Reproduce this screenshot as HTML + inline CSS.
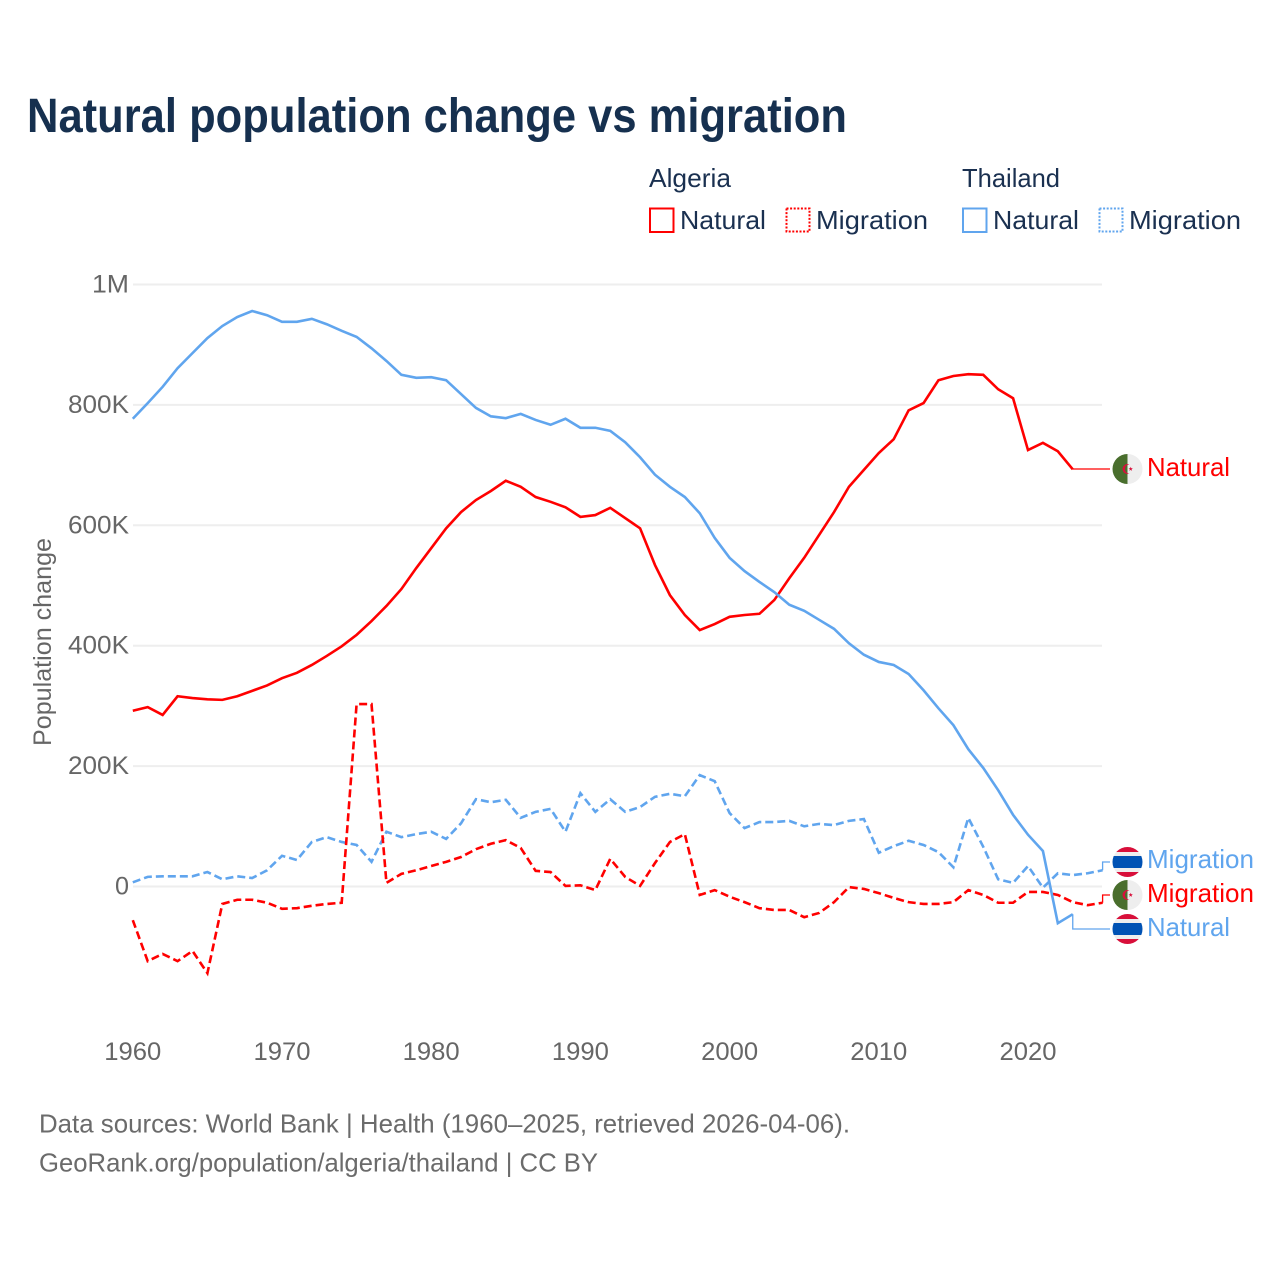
<!DOCTYPE html>
<html lang="en">
<head>
<meta charset="utf-8">
<title>Natural population change vs migration</title>
<style>
html,body{margin:0;padding:0;background:#fff;}
svg{display:block;}
text{font-family:"Liberation Sans",sans-serif;}
</style>
</head>
<body>
<svg id="chart" xmlns="http://www.w3.org/2000/svg" width="1280" height="1280" viewBox="0 0 1280 1280">
  <defs>
    <clipPath id="flag-clip"><circle cx="0" cy="0" r="15"/></clipPath>
    <g id="flag-thailand" clip-path="url(#flag-clip)">
      <rect x="-15" y="-15" width="30" height="30" fill="#eeeeee"/>
      <rect x="-15" y="-15" width="30" height="5" fill="#d80f3a"/>
      <rect x="-15" y="10" width="30" height="5" fill="#d80f3a"/>
      <rect x="-15" y="-6" width="30" height="12" fill="#0052b4"/>
    </g>
    <g id="flag-algeria" clip-path="url(#flag-clip)">
      <rect x="-15" y="-15" width="15" height="30" fill="#496e2d"/>
      <rect x="0" y="-15" width="15" height="30" fill="#eeeeee"/>
      <path d="M2 -4.6A5 5 0 1 0 2 4.6A4 4 0 1 1 2 -4.6Z" fill="#d80f3a"/>
      <polygon points="3.2,-2.2 3.8,-0.7 5.4,-0.7 4.1,0.3 4.6,1.9 3.2,0.9 1.8,1.9 2.3,0.3 1,-0.7 2.6,-0.7" fill="#d80f3a"/>
    </g>
  </defs>

  <rect x="0" y="0" width="1280" height="1280" fill="#ffffff"/>

  <text x="27" y="132" font-size="48" font-weight="700" fill="#16304f" textLength="820" lengthAdjust="spacingAndGlyphs">Natural population change vs migration</text>

  <g font-size="26" fill="#1a3050">
    <text x="649" y="187" textLength="82" lengthAdjust="spacingAndGlyphs">Algeria</text>
    <text x="962" y="187" textLength="98" lengthAdjust="spacingAndGlyphs">Thailand</text>

    <g>
      <rect x="650" y="208.5" width="23.5" height="23.5" fill="none" stroke="#ff0000" stroke-width="2"/>
      <text x="680" y="229" textLength="86" lengthAdjust="spacingAndGlyphs">Natural</text>
    </g>
    <g>
      <rect x="786.5" y="208.5" width="23" height="23" fill="none" stroke="#ff0000" stroke-width="2" stroke-dasharray="2 1.6"/>
      <text x="816" y="229" textLength="112" lengthAdjust="spacingAndGlyphs">Migration</text>
    </g>
    <g>
      <rect x="963" y="208.5" width="23.5" height="23.5" fill="none" stroke="#60a5ee" stroke-width="2"/>
      <text x="993" y="229" textLength="86" lengthAdjust="spacingAndGlyphs">Natural</text>
    </g>
    <g>
      <rect x="1099.5" y="208.5" width="23" height="23" fill="none" stroke="#60a5ee" stroke-width="2" stroke-dasharray="2 1.6"/>
      <text x="1129" y="229" textLength="112" lengthAdjust="spacingAndGlyphs">Migration</text>
    </g>
  </g>

  <g id="grid"></g>
  <g id="y-ticks" font-size="25" fill="#666666" text-anchor="end"></g>
  <g id="x-ticks" font-size="25" fill="#666666" text-anchor="middle"></g>
  <text transform="translate(51,642) rotate(-90)" font-size="25" fill="#666666" text-anchor="middle" textLength="208" lengthAdjust="spacingAndGlyphs">Population change</text>

  <g id="series"></g>

  <g font-size="26">
    <use href="#flag-algeria" x="1127.5" y="469"/>
    <text x="1147" y="476" fill="#ff0000" textLength="83" lengthAdjust="spacingAndGlyphs">Natural</text>
    <use href="#flag-thailand" x="1127.5" y="862"/>
    <text x="1147" y="868" fill="#60a5ee" textLength="107" lengthAdjust="spacingAndGlyphs">Migration</text>
    <use href="#flag-algeria" x="1127.5" y="895"/>
    <text x="1147" y="902" fill="#ff0000" textLength="107" lengthAdjust="spacingAndGlyphs">Migration</text>
    <use href="#flag-thailand" x="1127.5" y="929"/>
    <text x="1147" y="936" fill="#60a5ee" textLength="83" lengthAdjust="spacingAndGlyphs">Natural</text>
  </g>

  <g font-size="26" fill="#6b6b6b">
    <text x="39" y="1132.5" textLength="811" lengthAdjust="spacingAndGlyphs">Data sources: World Bank | Health (1960–2025, retrieved 2026-04-06).</text>
    <text x="39" y="1171.5" textLength="559" lengthAdjust="spacingAndGlyphs">GeoRank.org/population/algeria/thailand | CC BY</text>
  </g>
</svg>
<script>
const startYear = 1960;
const xTickYears = [1960, 1970, 1980, 1990, 2000, 2010, 2020];
const yTickValues = [0, 200, 400, 600, 800, 1000];
const yTickLabels = ['0', '200K', '400K', '600K', '800K', '1M'];

const algeriaNatural = [292,298,285,316,313,311,310,316,325,334,346,355,368,383,399,418,441,466,494,529,562,595,622,642,657,674,664,647,639,630,614,617,629,612,595,534,484,451,426,436,448,451,453,476,512,546,584,622,664,692,720,743,791,803,841,848,851,850,826,811,725,737,723,693];
const thailandNatural = [777,803,830,861,886,911,931,946,956,949,938,938,943,934,923,913,894,873,850,845,846,841,818,795,781,778,785,775,767,777,762,762,757,738,713,684,664,647,620,579,546,524,506,489,468,458,443,428,404,385,373,368,353,326,296,268,228,197,160,119,86,59,-61,-46];
const algeriaMigration = [-56,-124,-112,-124,-107,-144,-29,-22,-22,-27,-37,-36,-32,-29,-27,303,303,6,21,27,34,41,49,62,71,77,64,26,24,1,2,-6,46,16,1,39,74,87,-14,-6,-17,-26,-36,-39,-39,-51,-44,-26,-1,-4,-11,-19,-26,-29,-29,-26,-6,-14,-27,-27,-9,-9,-14,-26,-31,-27];
const thailandMigration = [7,16,17,17,17,24,12,17,14,27,51,44,74,82,74,69,41,91,82,87,91,79,105,145,140,144,114,124,129,91,155,124,145,124,132,149,154,150,185,175,122,97,107,107,109,100,104,102,109,112,56,67,76,69,57,32,114,66,12,6,34,-2,22,19,22,27];

const NS = 'http://www.w3.org/2000/svg';
function xScale(year) { return 132.8 + (year - 1960) * 14.92; }
function yScale(v) { return 886.5 - v * 0.602; }

const grid = document.getElementById('grid');
const yTicks = document.getElementById('y-ticks');
const xTicks = document.getElementById('x-ticks');
const seriesGroup = document.getElementById('series');

yTickValues.forEach(function (v, i) {
  const line = document.createElementNS(NS, 'line');
  
  
  line.setAttribute('x1', 133);
  line.setAttribute('x2', 1102);
  line.setAttribute('y1', yScale(v));
  line.setAttribute('y2', yScale(v));
  line.setAttribute('stroke', '#eeeeee');
  line.setAttribute('stroke-width', '2');
  grid.appendChild(line);

  const label = document.createElementNS(NS, 'text');
  
  
  label.setAttribute('x', 129);
  label.setAttribute('y', yScale(v) + 8);
  label.setAttribute('textLength', yTickLabels[i].length === 1 ? 14 : (yTickLabels[i].length === 2 ? 37 : 61));
  label.setAttribute('lengthAdjust', 'spacingAndGlyphs');
  label.textContent = yTickLabels[i];
  yTicks.appendChild(label);
});

xTickYears.forEach(function (yr) {
  const label = document.createElementNS(NS, 'text');
  
  
  label.setAttribute('x', xScale(yr));
  label.setAttribute('y', 1060);
  label.setAttribute('textLength', 57);
  label.setAttribute('lengthAdjust', 'spacingAndGlyphs');
  label.textContent = yr;
  xTicks.appendChild(label);
});

function drawConnector(values, color, targetY, name) {
  const lastX = xScale(startYear + values.length - 1);
  const lastY = yScale(values[values.length - 1]);
  const path = document.createElementNS(NS, 'path');
  
  
  path.setAttribute('d', 'M' + lastX + ' ' + lastY + 'V' + targetY + 'H1110');
  path.setAttribute('fill', 'none');
  path.setAttribute('stroke', color);
  path.setAttribute('stroke-width', '1.3');
  seriesGroup.appendChild(path);
}

function drawSeries(values, color, dashed, name) {
  const d = values.map(function (v, i) {
    return (i ? 'L' : 'M') + xScale(startYear + i).toFixed(2) + ' ' + yScale(v).toFixed(2);
  }).join('');
  const path = document.createElementNS(NS, 'path');
  
  
  path.setAttribute('d', d);
  path.setAttribute('fill', 'none');
  path.setAttribute('stroke', color);
  path.setAttribute('stroke-width', '2.6');
  path.setAttribute('stroke-linejoin', 'miter');
  if (dashed) {
    path.setAttribute('stroke-dasharray', '8 4');
  }
  seriesGroup.appendChild(path);
}

drawConnector(algeriaNatural, '#ff0000', 469, 'connector-algeria-natural');
drawConnector(thailandNatural, '#60a5ee', 929, 'connector-thailand-natural');
drawConnector(algeriaMigration, '#ff0000', 895, 'connector-algeria-migration');
drawConnector(thailandMigration, '#60a5ee', 862, 'connector-thailand-migration');
drawSeries(thailandMigration, '#60a5ee', true, 'line-thailand-migration');
drawSeries(algeriaMigration, '#ff0000', true, 'line-algeria-migration');
drawSeries(algeriaNatural, '#ff0000', false, 'line-algeria-natural');
drawSeries(thailandNatural, '#60a5ee', false, 'line-thailand-natural');
</script>
</body>
</html>
